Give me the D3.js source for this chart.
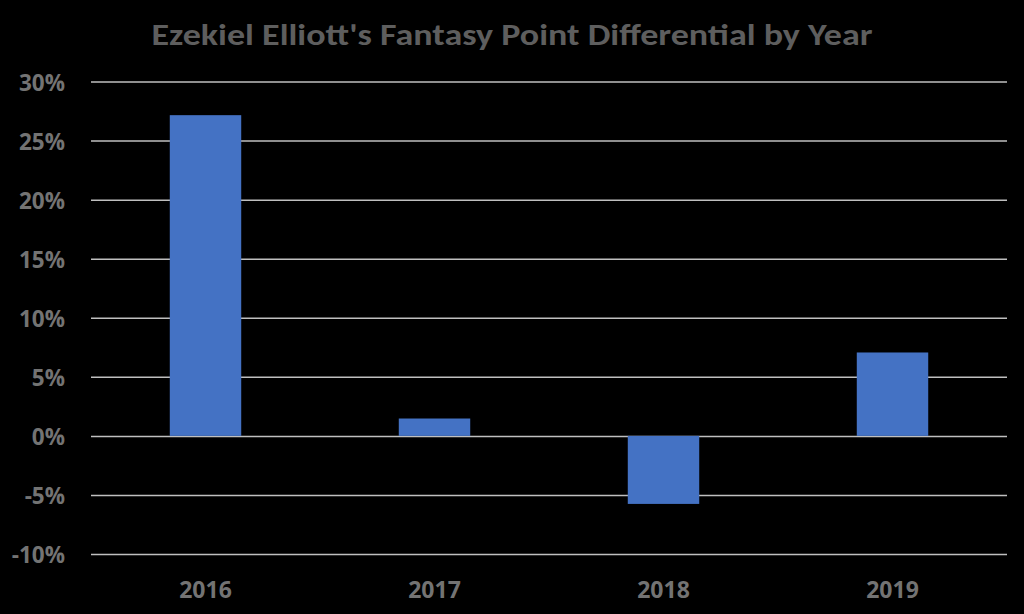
<!DOCTYPE html>
<html>
<head>
<meta charset="utf-8">
<script src="https://cdn.jsdelivr.net/npm/d3@7"></script>
<style>
  html, body { margin: 0; padding: 0; background: #000; }
  svg { display: block; }
  text { font-family: Carlito, Lato, "Open Sans", sans-serif; font-weight: bold; }
</style>
</head>
<body>
<svg id="chart" width="1024" height="614"></svg>
<script>
const years = ["2016", "2017", "2018", "2019"];
const differential = [0.2715, 0.0147, -0.0576, 0.0706];
const yTicks = [-0.10, -0.05, 0, 0.05, 0.10, 0.15, 0.20, 0.25, 0.30];
const title = "Ezekiel Elliott's Fantasy Point Differential by Year";

(function () {
const svg = d3.select("#chart");
const W = 1024, H = 614;
svg.append("rect").attr("width", W).attr("height", H).attr("fill", "#000");

const mLeft = 91, mRight = 1007, mTop = 81.5, mBottom = 554;
const labelFont = "'Open Sans', Lato, sans-serif";

const x = d3.scaleBand().domain(years).range([mLeft, mRight])
  .paddingInner(0.688).paddingOuter(0.344);
const y = d3.scaleLinear().domain([-0.10, 0.30]).range([mBottom, mTop]);

// gridlines + y labels
const yAxis = d3.axisLeft(y).tickValues(yTicks).tickSize(0)
  .tickFormat(d => Math.round(d * 100) + "%").tickPadding(0);
const yG = svg.append("g").attr("transform", `translate(${mLeft},0)`).call(yAxis);
yG.select(".domain").remove();
yG.selectAll(".tick line").remove();
yG.selectAll(".tick").append("line")
  .attr("x1", 0).attr("x2", mRight - mLeft)
  .attr("stroke", "#bfbfbf").attr("stroke-width", 1.5);
yG.selectAll(".tick text")
  .attr("x", -26).attr("dy", "0.38em")
  .attr("fill", "#737373").style("font-size", "22.5px")
  .style("font-family", labelFont)
  .style("font-weight", "bold");

// bars
svg.append("g").selectAll("rect").data(years).join("rect")
  .attr("x", d => x(d))
  .attr("width", x.bandwidth())
  .attr("y", (d, i) => y(Math.max(0, differential[i])))
  .attr("height", (d, i) => Math.abs(y(differential[i]) - y(0)))
  .attr("fill", "#4472C4");

// x axis labels
const xAxis = d3.axisBottom(x).tickSize(0).tickPadding(0);
const xG = svg.append("g").attr("transform", `translate(0,${mBottom})`).call(xAxis);
xG.select(".domain").remove();
xG.selectAll(".tick text")
  .attr("y", 43.5).attr("dy", 0)
  .attr("fill", "#737373").style("font-size", "23px")
  .style("font-family", labelFont)
  .style("font-weight", "bold");

// title
const t = svg.append("text")
  .attr("x", 512).attr("y", 44.5)
  .attr("text-anchor", "middle")
  .attr("fill", "#5e5e5e")
  .style("font-size", "31px")
  .style("font-weight", 900)
  .text(title);
const len = t.node().getComputedTextLength();
if (Math.abs(len - 721) > 4) {
  t.attr("textLength", 721).attr("lengthAdjust", "spacingAndGlyphs");
}
})();
</script>
</body>
</html>
